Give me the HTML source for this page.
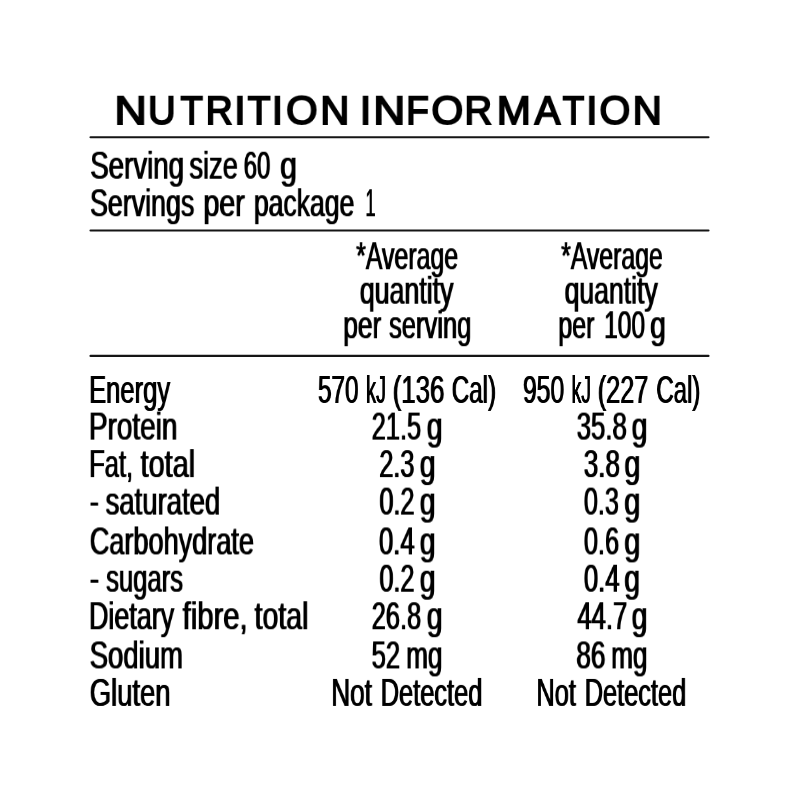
<!DOCTYPE html><html><head><meta charset="utf-8"><title>Nutrition Information</title><style>

html,body{margin:0;padding:0;background:#fff;}
body{width:800px;height:800px;position:relative;overflow:hidden;font-family:"Liberation Sans",sans-serif;color:#000;}
.i{position:absolute;left:0;top:0;white-space:pre;transform-origin:0 0;line-height:1;will-change:transform;}
.b{font-size:38.4px;word-spacing:-0.09em;text-shadow:1.4px 0 0 #000;}
.ttl{font-size:48.0px;color:#000;-webkit-text-stroke:2.1px #000;}
svg.ln{position:absolute;left:0;top:0;}
#w{position:absolute;left:0;top:0;width:800px;height:800px;}

</style></head><body><div id="w">
<svg class="ln" width="800" height="800" viewBox="0 0 800 800" style=""><g stroke="#151515" stroke-width="2.1" stroke-linecap="round"><line x1="90.5" y1="137.25" x2="708.5" y2="137.25"/><line x1="90.5" y1="230.5" x2="708.5" y2="230.5"/><line x1="90.5" y1="355.9" x2="708.5" y2="355.9"/></g></svg>
<div class="i ttl" style="transform:translate(114.43px,90.63px) scale(0.9332,0.838);">N</div>
<div class="i ttl" style="transform:translate(148.06px,90.63px) scale(0.7942,0.838);">U</div>
<div class="i ttl" style="transform:translate(180.52px,90.63px) scale(0.7625,0.838);">T</div>
<div class="i ttl" style="transform:translate(205.77px,90.63px) scale(0.7756,0.838);">R</div>
<div class="i ttl" style="transform:translate(234.17px,90.63px) scale(0.8508,0.838);">I</div>
<div class="i ttl" style="transform:translate(247.60px,90.63px) scale(0.7831,0.838);">T</div>
<div class="i ttl" style="transform:translate(271.92px,90.63px) scale(0.8319,0.838);">I</div>
<div class="i ttl" style="transform:translate(286.01px,90.63px) scale(0.8457,0.838);">O</div>
<div class="i ttl" style="transform:translate(320.18px,90.63px) scale(0.8438,0.838);">N</div>
<div class="i ttl" style="transform:translate(359.88px,90.63px) scale(0.8462,0.838);">I</div>
<div class="i ttl" style="transform:translate(373.31px,90.63px) scale(0.9196,0.838);">N</div>
<div class="i ttl" style="transform:translate(406.19px,90.63px) scale(0.7698,0.838);">F</div>
<div class="i ttl" style="transform:translate(431.38px,90.63px) scale(0.8552,0.838);">O</div>
<div class="i ttl" style="transform:translate(464.38px,90.63px) scale(0.8013,0.838);">R</div>
<div class="i ttl" style="transform:translate(496.82px,90.63px) scale(0.8508,0.838);">M</div>
<div class="i ttl" style="transform:translate(534.57px,90.63px) scale(0.8047,0.838);">A</div>
<div class="i ttl" style="transform:translate(562.60px,90.63px) scale(0.7390,0.838);">T</div>
<div class="i ttl" style="transform:translate(586.25px,90.63px) scale(0.8334,0.838);">I</div>
<div class="i ttl" style="transform:translate(599.51px,90.63px) scale(0.8255,0.838);">O</div>
<div class="i ttl" style="transform:translate(632.71px,90.63px) scale(0.8393,0.838);">N</div>
<div class="i b" style="transform:translate(89.67px,146.70px) scale(0.7208,1.0);">Serving</div>
<div class="i b" style="transform:translate(188.86px,146.70px) scale(0.7113,1.0);">size</div>
<div class="i b" style="transform:translate(243.24px,146.70px) scale(0.6247,1.0);">60</div>
<div class="i b" style="transform:translate(279.64px,146.70px) scale(0.7810,1.0);">g</div>
<div class="i b" style="transform:translate(89.47px,184.20px) scale(0.6987,1.0);">Servings</div>
<div class="i b" style="transform:translate(202.87px,184.20px) scale(0.7460,1.0);">per</div>
<div class="i b" style="transform:translate(253.34px,184.20px) scale(0.6922,1.0);">package</div>
<div class="i b" style="transform:translate(365.15px,184.20px) scale(0.4575,1.0);">1</div>
<div class="i b" style="transform:translate(355.70px,237.20px) scale(0.6484,1.0);">*Average</div>
<div class="i b" style="transform:translate(359.28px,271.70px) scale(0.6967,1.0);">quantity</div>
<div class="i b" style="transform:translate(342.72px,306.20px) scale(0.6877,1.0);">per</div>
<div class="i b" style="transform:translate(388.56px,306.20px) scale(0.6649,1.0);">serving</div>
<div class="i b" style="transform:translate(560.70px,237.20px) scale(0.6462,1.0);">*Average</div>
<div class="i b" style="transform:translate(564.07px,271.70px) scale(0.6930,1.0);">quantity</div>
<div class="i b" style="transform:translate(557.81px,306.20px) scale(0.6532,1.0);">per</div>
<div class="i b" style="transform:translate(603.66px,306.20px) scale(0.6393,1.0);">100</div>
<div class="i b" style="transform:translate(649.63px,306.20px) scale(0.7337,1.0);">g</div>
<div class="i b" style="transform:translate(88.59px,370.95px) scale(0.6667,1.0);">Energy</div>
<div class="i b" style="transform:translate(317.46px,370.95px) scale(0.6351,1.0);">570</div>
<div class="i b" style="transform:translate(365.65px,370.95px) scale(0.5233,1.0);">kJ</div>
<div class="i b" style="transform:translate(392.20px,370.95px) scale(0.6732,1.0);">(136</div>
<div class="i b" style="transform:translate(451.28px,370.95px) scale(0.6302,1.0);">Cal)</div>
<div class="i b" style="transform:translate(522.45px,370.95px) scale(0.6451,1.0);">950</div>
<div class="i b" style="transform:translate(571.16px,370.95px) scale(0.5092,1.0);">kJ</div>
<div class="i b" style="transform:translate(597.24px,370.95px) scale(0.6581,1.0);">(227</div>
<div class="i b" style="transform:translate(655.93px,370.95px) scale(0.6246,1.0);">Cal)</div>
<div class="i b" style="transform:translate(88.39px,407.60px) scale(0.7274,1.0);">Protein</div>
<div class="i b" style="transform:translate(371.19px,407.60px) scale(0.6630,1.0);">21.5</div>
<div class="i b" style="transform:translate(426.25px,407.60px) scale(0.7323,1.0);">g</div>
<div class="i b" style="transform:translate(576.20px,407.60px) scale(0.6718,1.0);">35.8</div>
<div class="i b" style="transform:translate(631.15px,407.60px) scale(0.7321,1.0);">g</div>
<div class="i b" style="transform:translate(88.59px,445.10px) scale(0.6668,1.0);">Fat,</div>
<div class="i b" style="transform:translate(140.04px,445.10px) scale(0.7518,1.0);">total</div>
<div class="i b" style="transform:translate(378.85px,445.10px) scale(0.6563,1.0);">2.3</div>
<div class="i b" style="transform:translate(419.26px,445.10px) scale(0.7330,1.0);">g</div>
<div class="i b" style="transform:translate(583.22px,445.10px) scale(0.6797,1.0);">3.8</div>
<div class="i b" style="transform:translate(623.90px,445.10px) scale(0.7400,1.0);">g</div>
<div class="i b" style="transform:translate(89.27px,482.60px) scale(0.7010,1.0);">-</div>
<div class="i b" style="transform:translate(105.06px,482.60px) scale(0.7164,1.0);">saturated</div>
<div class="i b" style="transform:translate(378.94px,482.60px) scale(0.6561,1.0);">0.2</div>
<div class="i b" style="transform:translate(419.25px,482.60px) scale(0.7323,1.0);">g</div>
<div class="i b" style="transform:translate(583.39px,482.60px) scale(0.6563,1.0);">0.3</div>
<div class="i b" style="transform:translate(623.72px,482.60px) scale(0.7464,1.0);">g</div>
<div class="i b" style="transform:translate(89.24px,522.40px) scale(0.7060,1.0);">Carbohydrate</div>
<div class="i b" style="transform:translate(378.46px,522.40px) scale(0.6693,1.0);">0.4</div>
<div class="i b" style="transform:translate(419.24px,522.40px) scale(0.7326,1.0);">g</div>
<div class="i b" style="transform:translate(583.37px,522.40px) scale(0.6611,1.0);">0.6</div>
<div class="i b" style="transform:translate(623.73px,522.40px) scale(0.7469,1.0);">g</div>
<div class="i b" style="transform:translate(89.23px,559.70px) scale(0.7210,1.0);">-</div>
<div class="i b" style="transform:translate(105.64px,559.70px) scale(0.6670,1.0);">sugars</div>
<div class="i b" style="transform:translate(378.95px,559.70px) scale(0.6557,1.0);">0.2</div>
<div class="i b" style="transform:translate(419.23px,559.70px) scale(0.7332,1.0);">g</div>
<div class="i b" style="transform:translate(583.36px,559.70px) scale(0.6696,1.0);">0.4</div>
<div class="i b" style="transform:translate(623.73px,559.70px) scale(0.7344,1.0);">g</div>
<div class="i b" style="transform:translate(88.48px,597.20px) scale(0.7005,1.0);">Dietary</div>
<div class="i b" style="transform:translate(182.07px,597.20px) scale(0.7620,1.0);">fibre,</div>
<div class="i b" style="transform:translate(254.03px,597.20px) scale(0.7418,1.0);">total</div>
<div class="i b" style="transform:translate(371.19px,597.20px) scale(0.6635,1.0);">26.8</div>
<div class="i b" style="transform:translate(426.26px,597.20px) scale(0.7324,1.0);">g</div>
<div class="i b" style="transform:translate(576.86px,597.20px) scale(0.6688,1.0);">44.7</div>
<div class="i b" style="transform:translate(631.13px,597.20px) scale(0.7335,1.0);">g</div>
<div class="i b" style="transform:translate(89.15px,636.40px) scale(0.7169,1.0);">Sodium</div>
<div class="i b" style="transform:translate(371.14px,636.40px) scale(0.6691,1.0);">52</div>
<div class="i b" style="transform:translate(405.70px,636.40px) scale(0.6780,1.0);">mg</div>
<div class="i b" style="transform:translate(575.81px,636.40px) scale(0.6837,1.0);">86</div>
<div class="i b" style="transform:translate(610.70px,636.40px) scale(0.6780,1.0);">mg</div>
<div class="i b" style="transform:translate(89.22px,673.90px) scale(0.7143,1.0);">Gluten</div>
<div class="i b" style="transform:translate(330.72px,673.90px) scale(0.6827,1.0);">Not</div>
<div class="i b" style="transform:translate(380.23px,673.90px) scale(0.6616,1.0);">Detected</div>
<div class="i b" style="transform:translate(535.83px,673.90px) scale(0.6639,1.0);">Not</div>
<div class="i b" style="transform:translate(584.24px,673.90px) scale(0.6606,1.0);">Detected</div>
</div></body></html>
